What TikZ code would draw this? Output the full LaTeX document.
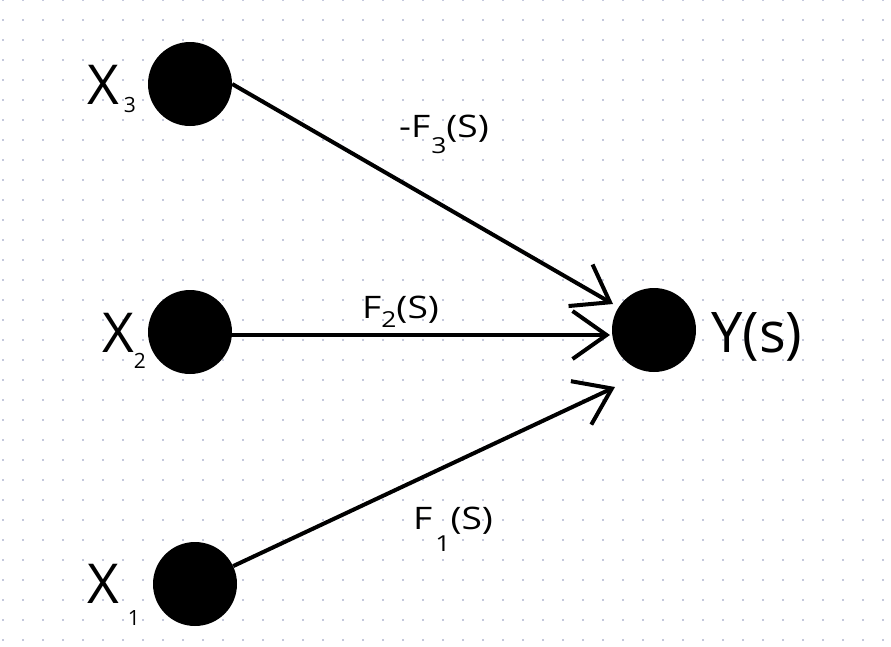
\documentclass[tikz,border=0pt]{standalone}
\usepackage{fontspec}
\setmainfont{Open Sans}
\newfontfamily\widesans[FakeStretch=1.2]{Open Sans}
\usetikzlibrary{arrows.meta}
\definecolor{griddot}{RGB}{196,200,220}
\tikzset{
  dotnode/.style={circle, fill=black, minimum size=84pt, inner sep=0pt},
  flow/.style={line width=4pt, -{Straight Barb[length=34pt,width=48pt]}},
  varlabel/.style={anchor=base west, inner sep=0pt, font=\fontsize{55}{55}\selectfont},
  tflabel/.style={anchor=base west, inner sep=0pt, font=\widesans\fontsize{31}{31}\selectfont},
}
% subscript lowered by #1 pt, set at size #2
\newcommand{\lowsub}[3]{\raisebox{-#1pt}{\fontsize{#2}{#2}\selectfont #3}}
\begin{document}
\begin{tikzpicture}[x=1pt,y=-1pt]
  \useasboundingbox (0,0) rectangle (891,646);
  \fill[white] (0,0) rectangle (891,646);
  % dotted background grid
  \foreach \i in {0,...,44} {
    \foreach \j in {0,...,32} {
      \fill[griddot] ({3+20*\i-1},{20*\j-1}) rectangle ++(2,2);
    }
  }
  % arrow tip positions
  \coordinate (t3) at (613,304);
  \coordinate (t2) at (610,335);
  \coordinate (t1) at (615,387);
  % nodes
  \node[dotnode] (x3) at (190,84) {};
  \node[dotnode] (x2) at (190,332) {};
  \node[dotnode] (x1) at (195,584) {};
  \node[dotnode] (y) at (654,330) {};
  % connectors
  \draw[flow] (x3.east) -- (t3);
  \draw[flow] (t2 -| x2) -- (t2);
  \draw[flow] (x1) -- (t1);
  % variable labels
  \node[varlabel] (lx3) at (87,104) {X\hspace{5pt}\lowsub{8}{21}{3}};
  \node[varlabel] (lx2) at (102,352) {X\lowsub{16}{21}{2}};
  \node[varlabel] (lx1) at (87,603) {X\hspace{9pt}\lowsub{22}{21}{1}};
  \node[varlabel, font=\fontsize{56}{56}\selectfont] (ly) at (711,352) {Y(s)};
  % transfer function labels
  \node[tflabel] (f3) at (399,137) {-F\hspace{1pt}\lowsub{16}{22}{3}(S)};
  \node[tflabel] (f2) at (362,318) {F\lowsub{9}{22}{2}(S)};
  \node[tflabel] (f1) at (413,529) {F\hspace{3pt}\lowsub{22}{22}{1}(S)};
\end{tikzpicture}
\end{document}
